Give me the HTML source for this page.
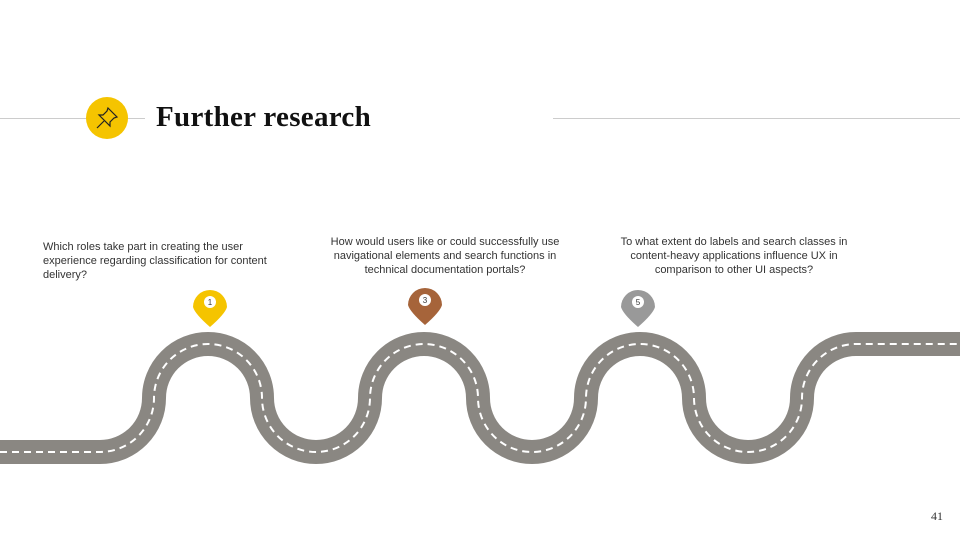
<!DOCTYPE html>
<html><head><meta charset="utf-8"><style>
body{margin:0;width:960px;height:540px;background:#fff;position:relative;overflow:hidden;font-family:"Liberation Sans",sans-serif}
.q{position:absolute;font-size:11px;line-height:14px;color:#333}
</style></head><body>
<div style="position:absolute;left:0;top:118px;width:145px;height:1px;background:#ccc"></div>
<div style="position:absolute;left:553px;top:118px;width:407px;height:1px;background:#ccc"></div>
<svg style="position:absolute;left:86px;top:97px" width="42" height="42" viewBox="0 0 42 42">
<circle cx="21" cy="21" r="21" fill="#F5C400"/>
<g fill="none" stroke="#222" stroke-width="1.2"><path d="M22 11 L31 20 L28 21 L24 25 L24 29 L13 18 L17 18 L21 14 Z"/><path d="M18 24 L11 31"/></g>
</svg>
<div style="position:absolute;left:156px;top:101px;font-family:'Liberation Serif',serif;font-weight:bold;font-size:29px;letter-spacing:0.3px;color:#111">Further research</div>
<div class="q" style="left:43px;top:240px;width:250px">Which roles take part in creating the user experience regarding classification for content delivery?</div>
<div class="q" style="left:318px;top:235px;width:254px;text-align:center">How would users like or could successfully use navigational elements and search functions in technical documentation portals?</div>
<div class="q" style="left:608px;top:235px;width:252px;text-align:center">To what extent do labels and search classes in content-heavy applications influence UX in comparison to other UI aspects?</div>
<svg style="position:absolute;left:0;top:0" width="960" height="540">
<path d="M0 452 L100 452 A54 54 0 0 0 154 398 A54 54 0 0 1 262 398 A54 54 0 0 0 370 398 A54 54 0 0 1 478 398 A54 54 0 0 0 586 398 A54 54 0 0 1 694 398 A54 54 0 0 0 802 398 A54 54 0 0 1 856 344 L960 344" fill="none" stroke="#8A8782" stroke-width="24"/>
<path d="M0 452 L100 452 A54 54 0 0 0 154 398 A54 54 0 0 1 262 398 A54 54 0 0 0 370 398 A54 54 0 0 1 478 398 A54 54 0 0 0 586 398 A54 54 0 0 1 694 398 A54 54 0 0 0 802 398 A54 54 0 0 1 856 344 L960 344" fill="none" stroke="#fff" stroke-width="2" stroke-dasharray="7 5"/>
<g><path d="M193 307 A17 17 0 1 1 227 307 Q225 314 210 327 Q195 314 193 307Z" fill="#F5C400"/><circle cx="210" cy="302" r="6" fill="#fff"/><text x="210" y="305" font-size="8" text-anchor="middle" font-family="Liberation Sans" fill="#333">1</text></g>
<g><path d="M408 305 A17 17 0 1 1 442 305 Q440 312 425 325 Q410 312 408 305Z" fill="#A6643A"/><circle cx="425" cy="300" r="6" fill="#fff"/><text x="425" y="303" font-size="8" text-anchor="middle" font-family="Liberation Sans" fill="#333">3</text></g>
<g><path d="M621 307 A17 17 0 1 1 655 307 Q653 314 638 327 Q623 314 621 307Z" fill="#999"/><circle cx="638" cy="302" r="6" fill="#fff"/><text x="638" y="305" font-size="8" text-anchor="middle" font-family="Liberation Sans" fill="#333">5</text></g>
</svg>
<div style="position:absolute;left:931px;top:509px;font-family:'Liberation Serif',serif;font-size:12px;color:#333">41</div>
</body></html>
